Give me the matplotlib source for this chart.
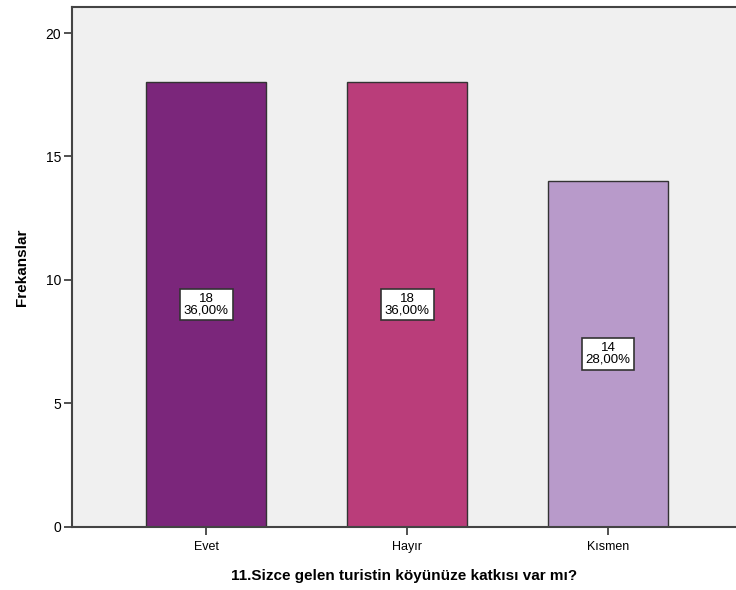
import matplotlib.pyplot as plt

plt.rcParams['font.family'] = ['Liberation Sans', 'DejaVu Sans']

categories = ['Evet', 'Hayır', 'Kısmen']
counts = [18, 18, 14]
percents = ['36,00%', '36,00%', '28,00%']
colors = ['#7B267B', '#BA3D7A', '#B89ACA']

fig = plt.figure(figsize=(7.36, 5.90), dpi=100)
ax = fig.add_axes([0.098, 0.107, 0.902, 0.881])
ax.set_facecolor('#F0F0F0')

x = range(len(categories))
ax.bar(x, counts, width=0.6, color=colors, edgecolor='#333333', linewidth=1.0, zorder=2)

for i, c in enumerate(counts):
    ax.text(i, c / 2, f'{c}\n{percents[i]}', ha='center', va='center', fontsize=9.5,
            linespacing=0.95, zorder=3,
            bbox=dict(boxstyle='square,pad=0.3', facecolor='white', edgecolor='#333333', linewidth=1.2))

ax.set_xlim(-0.667, 2.637)
ax.set_ylim(0, 21.05)
ax.set_yticks([0, 5, 10, 15, 20])
ax.set_xticks(list(x))
ax.set_xticklabels(categories)
ax.tick_params(axis='y', labelsize=10, length=6, width=1.2, color='#333333', pad=2)
ax.tick_params(axis='x', labelsize=9, length=6, width=1.2, color='#333333', pad=4)

for side in ['left', 'bottom', 'top']:
    ax.spines[side].set_color('#444444')
    ax.spines[side].set_linewidth(1.5)
ax.spines['right'].set_visible(False)

ax.set_ylabel('Frekanslar', fontsize=11, fontweight='bold', labelpad=12)
ax.set_xlabel('11.Sizce gelen turistin köyünüze katkısı var mı?', fontsize=11,
              fontweight='bold', labelpad=12)

plt.savefig('out.png', dpi=100)
